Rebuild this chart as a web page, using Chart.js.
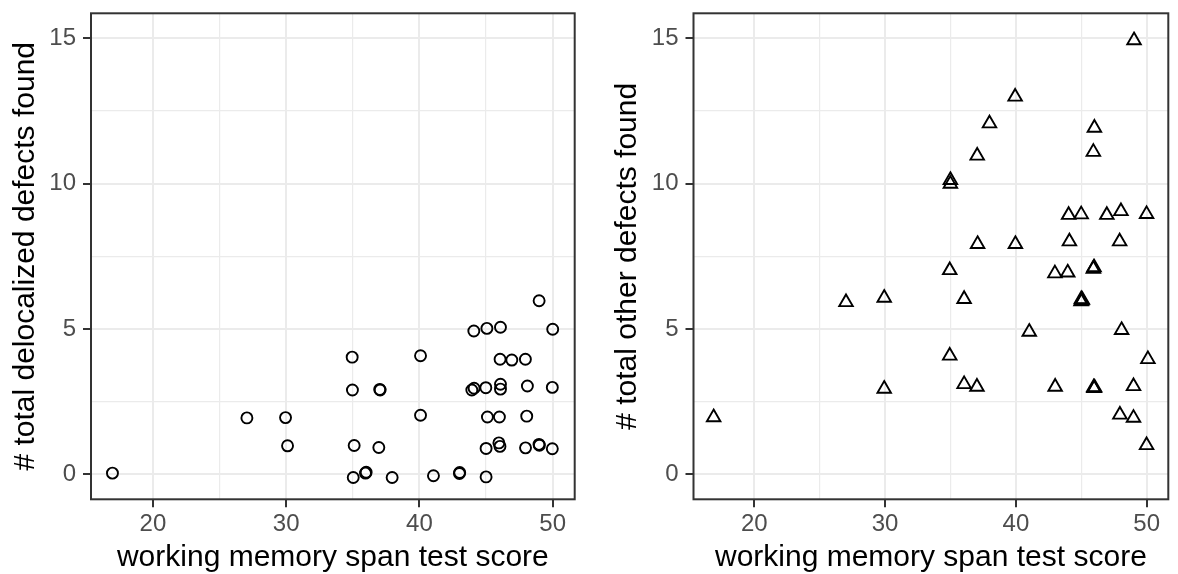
<!DOCTYPE html>
<html>
<head>
<meta charset="utf-8">
<script src="https://cdn.jsdelivr.net/npm/chart.js@4.4.1/dist/chart.umd.min.js"></script>
<style>
  body { margin: 0; background: #fff; overflow: hidden; }
  .panel { position: absolute; top: 0; width: 589px; height: 574px; }
</style>
</head>
<body>
<div class="panel" style="left:0"><canvas id="leftChart" width="589" height="574"></canvas></div>
<div class="panel" style="left:589px"><canvas id="rightChart" width="589" height="574"></canvas></div>
<script>
// working memory span score (jittered) vs. delocalized defects found
var delocScore = [16.96, 27.05, 29.95, 30.1, 34.95, 34.97, 35.1, 35.03, 35.95, 36.0,
  37.05, 37.02, 36.95, 37.95, 40.08, 40.08, 41.05, 43.0, 43.02, 44.08,
  43.93, 44.1, 44.98, 45.06, 45.1, 45.0, 45.0, 46.08, 46.05, 46.08,
  46.08, 46.0, 45.96, 46.04, 46.93, 47.95, 48.1, 48.05, 47.96, 48.98,
  49.0, 48.97, 50.0, 49.97, 49.97];
var delocFound = [0.04, 1.94, 1.95, 0.98, 4.03, 2.9, 0.99, -0.11, 0.04, 0.07,
  2.9, 2.92, 0.92, -0.11, 4.08, 2.03, -0.05, 0.03, 0.06, 4.93,
  2.9, 2.96, 2.98, 5.02, 1.97, 0.89, -0.09, 5.06, 3.96, 3.1,
  2.93, 1.97, 1.08, 0.96, 3.93, 3.96, 3.04, 2.0, 0.91, 5.97,
  1.0, 1.03, 4.99, 2.99, 0.88];

// working memory span score (jittered) vs. other defects found
var otherScore = [16.89, 27.01, 29.93, 29.93, 34.94, 34.94, 34.99, 34.99, 36.04, 36.04,
  37.02, 37.07, 37.04, 37.98, 39.94, 39.96, 41.02, 42.98, 43.0, 43.96,
  44.09, 44.03, 44.99, 45.04, 45.0, 45.08, 44.98, 45.92, 45.97, 45.97,
  46.02, 45.95, 45.92, 46.0, 46.95, 47.95, 47.93, 48.03, 48.08, 48.99,
  48.99, 49.03, 49.99, 50.09, 49.99];
var otherFound = [1.96, 5.92, 6.07, 2.94, 4.08, 7.02, 10.12, 9.99, 6.03, 3.1,
  3.01, 7.92, 10.96, 12.07, 12.99, 7.92, 4.9, 6.91, 3.01, 6.94,
  8.01, 8.92, 8.94, 5.97, 6.02, 6.0, 5.95, 7.07, 7.12, 2.96,
  2.98, 2.99, 11.09, 11.92, 8.92, 2.05, 8.01, 9.05, 4.96, 3.03,
  1.94, 14.93, 8.95, 3.96, 1.0];

var xMajor = [20, 30, 40, 50];
var xGrid = [20, 25, 30, 35, 40, 45, 50];
var yMajor = [0, 5, 10, 15];
var yGrid = [0, 2.5, 5, 7.5, 10, 12.5, 15];

var FONT = "'Liberation Sans', Arial, Helvetica, sans-serif";

var panelBorder = {
  id: 'panelBorder',
  afterDraw: function(chart) {
    var a = chart.chartArea, c = chart.ctx;
    c.save();
    c.strokeStyle = '#333333';
    c.lineWidth = 2;
    c.strokeRect(a.left, a.top, a.right - a.left, a.bottom - a.top);
    c.restore();
  }
};

function makeChart(id, xs, ys, marker, radius, yTitle, yWidth, yTitlePad, rightPad) {
  var pts = xs.map(function(x, i) { return { x: x, y: ys[i] }; });
  var isMajor = function(list) {
    return function(ctx) { return ctx.tick && list.indexOf(ctx.tick.value) >= 0; };
  };
  var xIsMajor = isMajor(xMajor), yIsMajor = isMajor(yMajor);

  return new Chart(document.getElementById(id), {
    type: 'scatter',
    data: {
      datasets: [{
        data: pts,
        pointStyle: marker,
        pointRadius: radius,
        pointBorderWidth: 1.9,
        pointBorderColor: '#000',
        pointBackgroundColor: 'rgba(0,0,0,0)'
      }]
    },
    options: {
      responsive: false,
      animation: false,
      events: [],
      layout: { padding: { top: 13.3, right: rightPad, bottom: 0, left: 0 } },
      plugins: { legend: { display: false }, tooltip: { enabled: false } },
      scales: {
        x: {
          type: 'linear',
          min: 15.35,
          max: 51.65,
          afterBuildTicks: function(s) { s.ticks = xGrid.map(function(v) { return { value: v }; }); },
          afterFit: function(s) {
            s.height = 74.7;
            s.paddingLeft = 0;
            s.paddingRight = 0;
          },
          border: { display: false },
          grid: {
            color: '#EBEBEB',
            lineWidth: function(ctx) { return xIsMajor(ctx) ? 2 : 1.2; },
            tickColor: function(ctx) { return xIsMajor(ctx) ? '#333333' : 'rgba(0,0,0,0)'; },
            tickWidth: 2,
            tickLength: 8
          },
          ticks: {
            autoSkip: false,
            maxRotation: 0,
            padding: 3,
            color: '#4D4D4D',
            font: { family: FONT, size: 24 },
            callback: function(v) { return xMajor.indexOf(v) >= 0 ? String(v) : ''; }
          },
          title: {
            display: true,
            text: 'working memory span test score',
            color: '#000',
            font: { family: FONT, size: 30, lineHeight: 1 },
            padding: { top: 0, bottom: 1 }
          }
        },
        y: {
          type: 'linear',
          min: -0.86,
          max: 15.86,
          afterBuildTicks: function(s) { s.ticks = yGrid.map(function(v) { return { value: v }; }); },
          afterFit: function(s) {
            s.width = yWidth;
            s.paddingTop = 0;
            s.paddingBottom = 0;
          },
          border: { display: false },
          grid: {
            color: '#EBEBEB',
            lineWidth: function(ctx) { return yIsMajor(ctx) ? 2 : 1.2; },
            tickColor: function(ctx) { return yIsMajor(ctx) ? '#333333' : 'rgba(0,0,0,0)'; },
            tickWidth: 2,
            tickLength: 8
          },
          ticks: {
            autoSkip: false,
            padding: 7,
            color: '#4D4D4D',
            font: { family: FONT, size: 24 },
            callback: function(v) { return yMajor.indexOf(v) >= 0 ? String(v) : ''; }
          },
          title: {
            display: true,
            text: yTitle,
            color: '#000',
            font: { family: FONT, size: 30, lineHeight: 1 },
            padding: { top: yTitlePad, bottom: 0 }
          }
        }
      }
    },
    plugins: [panelBorder]
  });
}

makeChart('leftChart', delocScore, delocFound, 'circle', 5.5,
  '# total delocalized defects found', 91, 10.4, 14.3);
makeChart('rightChart', otherScore, otherFound, 'triangle', 7.8,
  '# total other defects found', 104.5, 23.4, 1.3);
</script>
</body>
</html>
